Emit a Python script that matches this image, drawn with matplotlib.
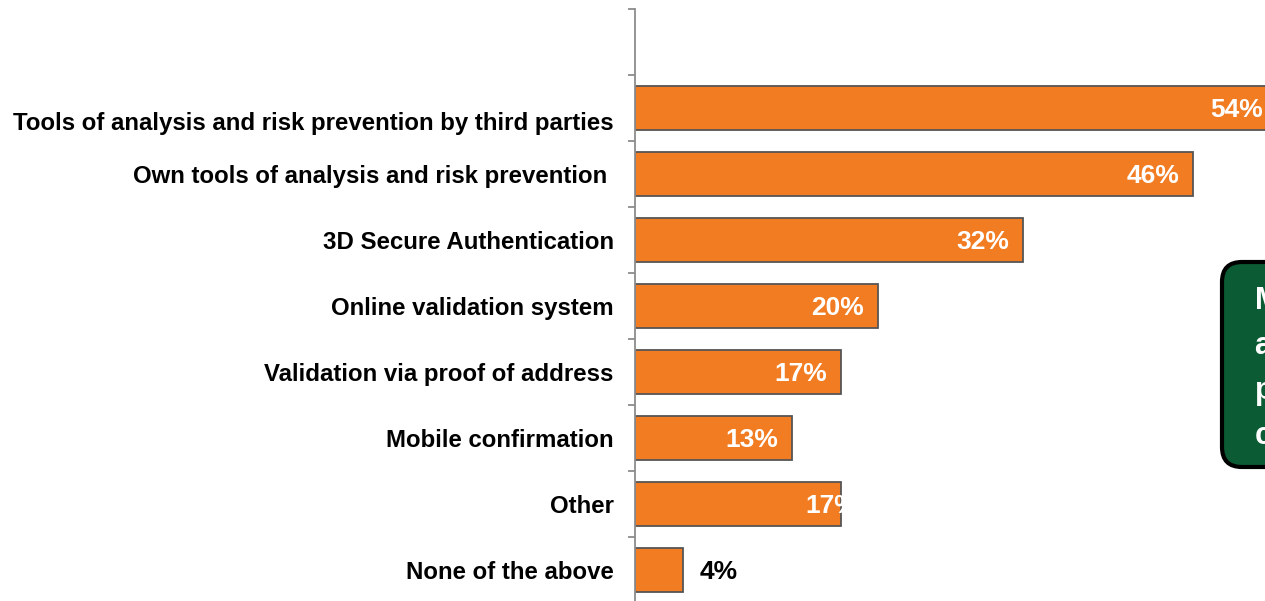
import numpy as np
import matplotlib.pyplot as plt
import matplotlib.transforms as mtransforms
from matplotlib.patches import FancyBboxPatch

plt.rcParams['font.family'] = ['Liberation Sans', 'DejaVu Sans']

# medidas contra el fraude, de arriba hacia abajo
categorias = ['Tools of analysis and risk prevention by third parties',
              'Own tools of analysis and risk prevention ',
              '3D Secure Authentication',
              'Online validation system',
              'Validation via proof of address',
              'Mobile confirmation',
              'Other',
              'None of the above']
porcentajes = [54, 46, 32, 20, 17, 13, 17, 4]

# ajuste horizontal de cada etiqueta de valor (puntos)
ajuste_etq = [-20, -10, -10, -10, -10, -10, 12, 12]

naranja = '#F27C22'
borde = '#555555'
gris = '#8C8C8C'

fig = plt.figure(figsize=(12.65, 6.01), dpi=100)
ax = fig.add_axes([634.5 / 1265, -2 / 601, 12.15 * 60 / 1265, 594 / 601])

n = len(categorias)
y = np.arange(n)[::-1]
ax.barh(y, porcentajes, height=0.67, color=naranja, edgecolor=borde,
        linewidth=1.3, zorder=2)
ax.set_xlim(0, 60)
ax.set_ylim(-0.5, n + 0.5)

for yi, p, dx in zip(y, porcentajes, ajuste_etq):
    fuera = p < 10
    ax.annotate(f'{p}%', (p, yi), xytext=(dx, -1.5), textcoords='offset points',
                ha='left' if fuera else 'right', va='center', fontsize=19,
                fontweight='bold', color='black' if fuera else 'white', zorder=3)

# ejes
for s in ['top', 'right', 'bottom']:
    ax.spines[s].set_visible(False)
ax.spines['left'].set_color(gris)
ax.spines['left'].set_linewidth(1.3)
ax.set_xticks([])
ax.set_yticks(y)
ax.set_yticklabels(categorias, fontsize=17.3, fontweight='bold')
ax.tick_params(axis='y', which='major', length=0, pad=15)
ax.set_yticks(np.arange(-0.5, n + 1), minor=True)
ax.tick_params(axis='y', which='minor', length=5, width=1.3, color=gris)

# la primera etiqueta queda un poco mas abajo
etq0 = ax.get_yticklabels()[0]
etq0.set_transform(etq0.get_transform() +
                   mtransforms.ScaledTranslation(0, -9.5 / 72, fig.dpi_scale_trans))

# recuadro verde a la derecha
caja = FancyBboxPatch((12.22, 1.34), 3.0, 2.05,
                      boxstyle='round,pad=0,rounding_size=0.2',
                      transform=fig.dpi_scale_trans, facecolor='#0B5B34',
                      edgecolor='black', linewidth=3, zorder=5)
fig.patches.append(caja)
fig.text(12.55, 3.15, 'Most merchants\nalready use risk\nprevention tools\ncombined',
         transform=fig.dpi_scale_trans, ha='left', va='top', fontsize=22,
         fontweight='bold', color='white', linespacing=1.65, zorder=6)

fig.savefig('out.png', dpi=100)
